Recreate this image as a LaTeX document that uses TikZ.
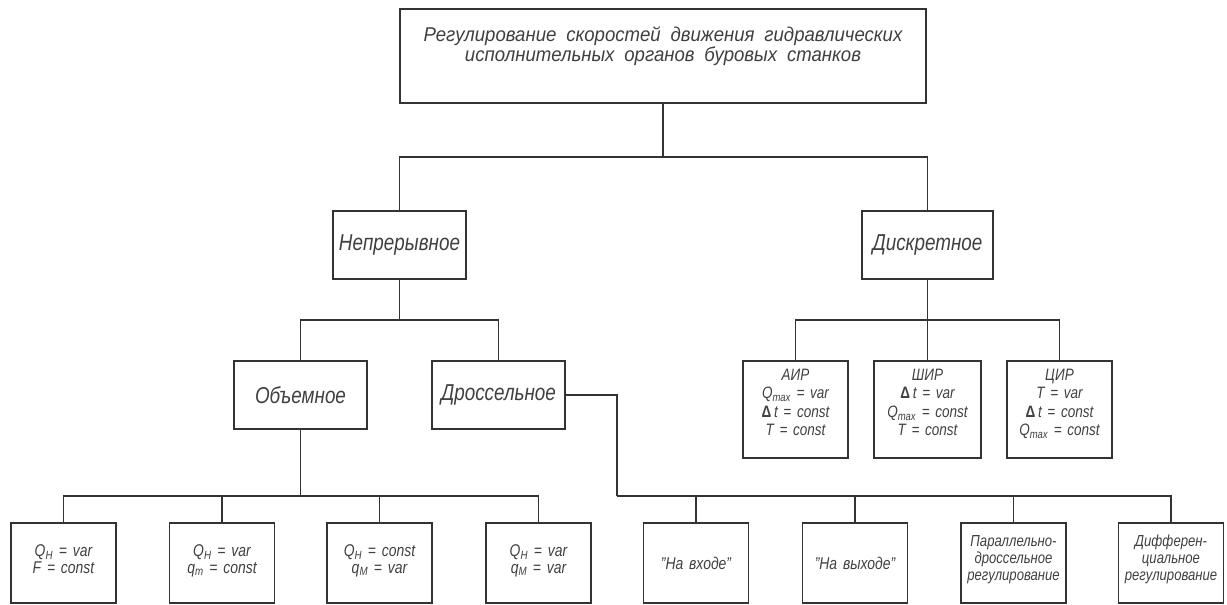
\documentclass[tikz,border=0pt]{standalone}
\usepackage{fontspec}
\setmainfont{Liberation Sans}[FakeStretch=0.82, WordSpace=1.5]
\newfontfamily\topf{Liberation Sans}[FakeStretch=0.93, WordSpace=1.9]
\newcommand{\Dl}{{\upshape\bfseries Δ}\,}
\begin{document}
\begin{tikzpicture}[x=1pt,y=-1pt,
  box/.style={draw=black!80, line width=1.4pt, rectangle, inner sep=0pt, align=center, text=black!75, font=\itshape},
  lvl/.style={box, minimum width=133pt, minimum height=68pt, font=\fontsize{23}{26}\selectfont\itshape},
  small/.style={box, minimum width=105pt, minimum height=97pt, font=\fontsize{16.5}{18.5}\selectfont\itshape},
  leaf/.style={box, minimum width=105pt, minimum height=80pt, font=\fontsize{17}{16.5}\selectfont\itshape},
  leafs/.style={leaf, font=\fontsize{16}{17}\selectfont\itshape},
  wire/.style={draw=black!80, line width=1.4pt}]
\useasboundingbox (0,0) rectangle (1227,605);
\node[box, minimum width=526pt, minimum height=94pt] (top) at (663,56) {};
\node[text=black!75, align=center, inner sep=0pt, font=\topf\fontsize{20}{20}\selectfont\itshape] (toptext) at (663,46)
  {Регулирование скоростей движения гидравлических\\исполнительных органов буровых станков};
\node[lvl] (nep) at (399.5,245) {Непрерывное};
\node[lvl, minimum width=131pt] (disk) at (927.5,245) {Дискретное};
\node[lvl] (obj) at (300.5,395) {Объемное};
\node[lvl] (dros) at (498.5,395) {Дроссельное};
\node[small] (air) at (795.5,409.5) {АИР\\Q\textsubscript{max} = var\\\Dl t = const\\T = const\\[-4.5pt]};
\node[small, minimum width=107pt] (shir) at (927.5,409.5) {ШИР\\\Dl t = var\\Q\textsubscript{max} = const\\T = const\\[-4.5pt]};
\node[small] (cir) at (1059.5,409.5) {ЦИР\\T = var\\\Dl t = const\\Q\textsubscript{max} = const\\[-4.5pt]};
\node[leaf] (b1) at (63.5,563) {Q\textsubscript{Н} = var\\F = const\\[-8.5pt]};
\node[leaf] (b2) at (222,563) {Q\textsubscript{Н} = var\\q\textsubscript{m} = const\\[-8.5pt]};
\node[leaf] (b3) at (379.5,563) {Q\textsubscript{Н} = const\\q\textsubscript{M} = var\\[-8.5pt]};
\node[leaf] (b4) at (538.5,563) {Q\textsubscript{Н} = var\\q\textsubscript{M} = var\\[-8.5pt]};
\node[leaf] (b5) at (696,563) {"На входе"};
\node[leaf] (b6) at (855,563) {"На выходе"};
\node[leafs] (b7) at (1013.5,563) {Параллельно-\\дроссельное\\регулирование\\[-7pt]};
\node[leafs] (b8) at (1171,563) {Дифферен-\\циальное\\регулирование\\[-7pt]};
\coordinate (j1) at (663,157);
\coordinate (j2) at (399.5,320);
\coordinate (j3) at (927.5,320);
\coordinate (j4) at (300.5,496);
\coordinate (j5) at (617,496);
\draw[wire] (top.south) -- (j1);
\draw[wire] (j1) -| (nep.north);
\draw[wire] (j1) -| (disk.north);
\draw[wire] (nep.south) -- (j2);
\draw[wire] (j2) -| (obj.north);
\draw[wire] (j2) -| (dros.north);
\draw[wire] (disk.south) -- (j3);
\draw[wire] (j3) -| (air.north);
\draw[wire] (j3) -- (shir.north);
\draw[wire] (j3) -| (cir.north);
\draw[wire] (obj.south) -- (j4);
\draw[wire] (j4) -| (b1.north);
\draw[wire] (j4) -| (b2.north);
\draw[wire] (j4) -| (b3.north);
\draw[wire] (j4) -| (b4.north);
\draw[wire] (dros.east) -| (j5);
\draw[wire] (j5) -| (b5.north);
\draw[wire] (j5) -| (b6.north);
\draw[wire] (j5) -| (b7.north);
\draw[wire] (j5) -| (b8.north);
\end{tikzpicture}
\end{document}
